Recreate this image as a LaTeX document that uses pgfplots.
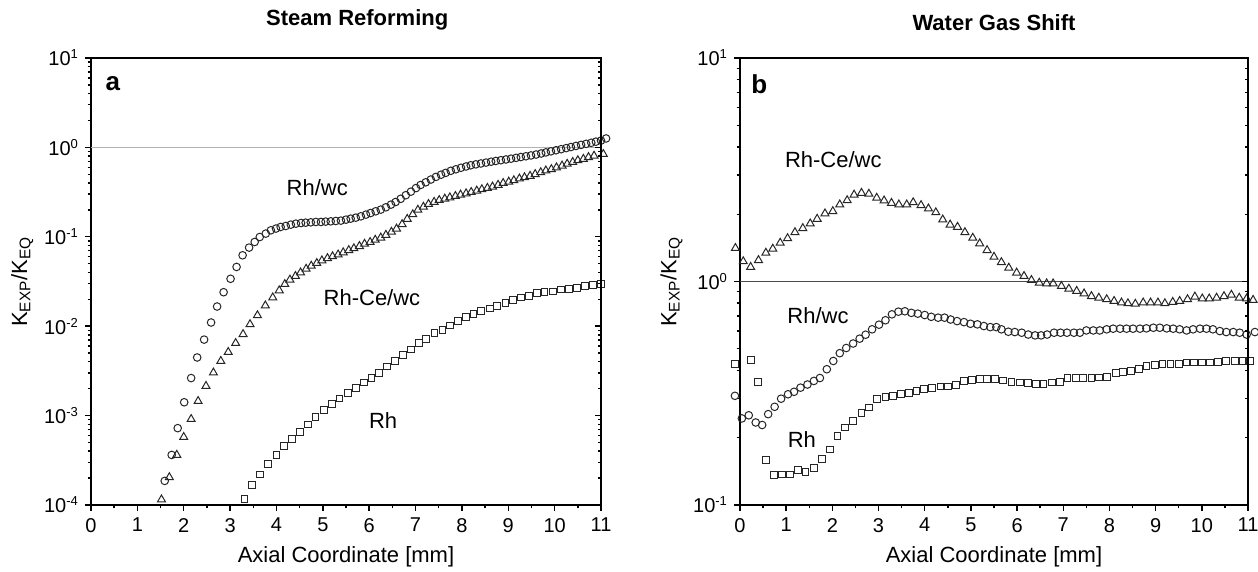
\documentclass[border=0pt]{standalone}
\usepackage{fontspec}
\setmainfont{Liberation Sans}
\usepackage{pgfplots}
\pgfplotsset{compat=1.18}

\newcommand{\ex}[1]{10\raisebox{3.6pt}{\fontsize{6.5}{7}\selectfont#1}}

% shared look of both panels
\pgfplotsset{
  kbase/.style={
    scale only axis, height=223.5pt,
    xmin=0, xmax=11, xtick={0,...,11}, minor x tick num=1,
    tick align=outside, xtick pos=bottom, ytick pos=left,
    axis line style={line width=0.9pt},
    major tick length=3pt, minor tick length=1.7pt,
    tick style={black, line width=0.7pt},
    tick label style={font=\fontsize{10}{12}\selectfont},
    label style={font=\fontsize{11}{13}\selectfont},
    /pgf/number format/assume math mode=true,
    clip=false,
    xlabel={Axial Coordinate [mm]},
    ylabel={K\textsubscript{EXP}/K\textsubscript{EQ}},
    xlabel style={at={(axis description cs:0.5,-0.117)}, anchor=center},
    ylabel style={at={(axis description cs:-0.135,0.5)}, anchor=center},
  },
  rticks/.style={
    scale only axis, height=223.5pt,
    xmin=0, xmax=11,
    axis x line=none, axis y line=right, axis line style={-, line width=0.9pt},
    tick align=inside, yticklabels={},
    major tick length=3pt, minor tick length=1.7pt,
    tick style={black, line width=0.7pt},
  },
}

\begin{document}
\begin{tikzpicture}[font=\fontsize{11}{13}\selectfont]
\path[use as bounding box] (0,0) rectangle (629pt,286pt);

% ---------- panel a ----------
\begin{axis}[kbase, width=255pt, at={(45.5pt,33.5pt)}, anchor=south west,
  ymode=log, ymin=1e-4, ymax=10,
  ytick={1e-4,1e-3,1e-2,1e-1,1,10},
  yticklabels={\ex{-4},\ex{-3},\ex{-2},\ex{-1},\ex{0},\ex{1}},
  minor ytick={2e-4,3e-4,4e-4,5e-4,6e-4,7e-4,8e-4,9e-4,2e-3,3e-3,4e-3,5e-3,6e-3,7e-3,8e-3,9e-3,0.02,0.03,0.04,0.05,0.06,0.07,0.08,0.09,0.2,0.3,0.4,0.5,0.6,0.7,0.8,0.9,2,3,4,5,6,7,8,9},
  title={Steam Reforming},
  title style={font=\bfseries\fontsize{11}{13}\selectfont, at={(axis description cs:0.522,1.058)}, anchor=center}]
\addplot[gray!60, line width=0.8pt, forget plot] coordinates {(0,1) (11,1)};
% Rh/wc
\addplot[only marks, mark=o, mark size=1.9pt, black!85, mark options={line width=0.5pt}] coordinates {
(1.59,1.86e-4) (1.74,3.63e-4) (1.87,7.24e-4) (2.01,1.41e-3) (2.16,2.63e-3) (2.29,4.47e-3)
(2.44,7.08e-3) (2.59,0.0110) (2.72,0.0166) (2.86,0.0240) (3.01,0.0339) (3.14,0.0460)
(3.27,0.0621) (3.41,0.0757) (3.53,0.0875) (3.64,0.0995) (3.77,0.1086) (3.88,0.1183)
(3.99,0.1236) (4.09,0.1288) (4.20,0.1321) (4.31,0.1368) (4.42,0.1403) (4.53,0.1426)
(4.63,0.1439) (4.74,0.1452) (4.85,0.1466) (4.96,0.1466) (5.06,0.1479) (5.17,0.1489)
(5.28,0.1503) (5.39,0.1517) (5.50,0.1556) (5.60,0.1596) (5.71,0.1637) (5.82,0.1694)
(5.93,0.1770) (6.03,0.1845) (6.14,0.1928) (6.25,0.2014) (6.36,0.2138) (6.47,0.2291)
(6.57,0.2449) (6.68,0.266) (6.79,0.292) (6.90,0.320) (7.01,0.351) (7.11,0.380)
(7.22,0.407) (7.33,0.437) (7.44,0.468) (7.55,0.495) (7.65,0.519) (7.76,0.547)
(7.87,0.569) (7.98,0.592) (8.09,0.612) (8.19,0.631) (8.30,0.646) (8.41,0.661)
(8.52,0.676) (8.63,0.692) (8.73,0.705) (8.84,0.719) (8.95,0.733) (9.06,0.748)
(9.17,0.764) (9.27,0.780) (9.38,0.796) (9.49,0.813) (9.60,0.832) (9.71,0.855)
(9.81,0.879) (9.92,0.904) (10.03,0.929) (10.14,0.955) (10.25,0.982) (10.35,1.009)
(10.46,1.038) (10.57,1.067) (10.68,1.096) (10.79,1.127) (10.89,1.159) (11.00,1.191)
(11.11,1.259)};
% Rh-Ce/wc
\addplot[only marks, mark=triangle, mark size=2.3pt, black!85, mark options={line width=0.5pt}] coordinates {
(1.52,1.15e-4) (1.69,2.04e-4) (1.85,3.63e-4) (2.00,5.75e-4) (2.16,9.12e-4) (2.31,1.45e-3)
(2.48,2.14e-3) (2.64,3.02e-3) (2.80,4.07e-3) (2.96,5.13e-3) (3.12,6.46e-3) (3.28,8.13e-3)
(3.43,0.0105) (3.59,0.0132) (3.76,0.0170) (3.92,0.0209) (4.06,0.0251) (4.18,0.0295)
(4.29,0.0331) (4.41,0.0363) (4.52,0.0398) (4.64,0.0437) (4.75,0.0473) (4.87,0.0507)
(4.98,0.0543) (5.10,0.0575) (5.21,0.0603) (5.33,0.0631) (5.44,0.0668) (5.56,0.0708)
(5.67,0.0741) (5.79,0.0785) (5.90,0.0832) (6.02,0.0871) (6.13,0.0923) (6.25,0.0977)
(6.36,0.1047) (6.48,0.1135) (6.59,0.1230) (6.71,0.138) (6.82,0.158) (6.94,0.178)
(7.05,0.200) (7.17,0.216) (7.28,0.232) (7.40,0.245) (7.51,0.257) (7.63,0.266)
(7.74,0.275) (7.86,0.285) (7.97,0.295) (8.09,0.305) (8.20,0.316) (8.32,0.327)
(8.43,0.339) (8.55,0.351) (8.66,0.363) (8.78,0.380) (8.89,0.398) (9.01,0.412)
(9.12,0.427) (9.24,0.447) (9.35,0.462) (9.47,0.479) (9.58,0.501) (9.70,0.525)
(9.81,0.550) (9.93,0.569) (10.04,0.596) (10.16,0.624) (10.27,0.653) (10.39,0.684)
(10.50,0.716) (10.62,0.741) (10.73,0.776) (10.85,0.804) (11.05,0.841)};
% Rh
\addplot[only marks, mark=square, mark size=1.7pt, black!85, mark options={line width=0.5pt}] coordinates {
(3.31,1.17e-4) (3.48,1.66e-4) (3.65,2.19e-4) (3.82,2.88e-4) (4.00,3.63e-4) (4.17,4.57e-4)
(4.33,5.50e-4) (4.50,6.61e-4) (4.68,7.94e-4) (4.84,9.55e-4) (5.02,1.15e-3) (5.19,1.35e-3)
(5.36,1.55e-3) (5.54,1.78e-3) (5.72,2.04e-3) (5.88,2.34e-3) (6.05,2.63e-3) (6.21,3.02e-3)
(6.39,3.55e-3) (6.55,4.07e-3) (6.73,4.79e-3) (6.90,5.50e-3) (7.08,6.46e-3) (7.23,7.24e-3)
(7.41,8.32e-3) (7.58,9.12e-3) (7.75,0.0102) (7.92,0.0115) (8.08,0.0126) (8.25,0.0138)
(8.42,0.0148) (8.60,0.0158) (8.76,0.0170) (8.94,0.0182) (9.10,0.0195) (9.28,0.0209)
(9.45,0.0219) (9.62,0.0234) (9.78,0.0240) (9.96,0.0245) (10.13,0.0257) (10.31,0.0263)
(10.48,0.0269) (10.65,0.0282) (10.83,0.0288) (11.00,0.0295)};
\node at (axis cs:4.88,0.357) {Rh/wc};
\node at (axis cs:6.06,0.0211) {Rh-Ce/wc};
\node at (axis cs:6.30,8.9e-4) {Rh};
\node[font=\bfseries\fontsize{13}{15}\selectfont] at (rel axis cs:0.043,0.943) {a};
\end{axis}
\begin{axis}[rticks, width=255pt, at={(45.5pt,33.5pt)}, anchor=south west,
  ymode=log, ymin=1e-4, ymax=10, ytick={1e-4,1e-3,1e-2,1e-1,1,10},
  minor ytick={2e-4,3e-4,4e-4,5e-4,6e-4,7e-4,8e-4,9e-4,2e-3,3e-3,4e-3,5e-3,6e-3,7e-3,8e-3,9e-3,0.02,0.03,0.04,0.05,0.06,0.07,0.08,0.09,0.2,0.3,0.4,0.5,0.6,0.7,0.8,0.9,2,3,4,5,6,7,8,9}]
\end{axis}

% ---------- panel b ----------
\begin{axis}[kbase, width=254pt, at={(370pt,33.5pt)}, anchor=south west,
  ymode=log, ymin=0.1, ymax=10,
  ytick={0.1,1,10},
  yticklabels={\ex{-1},\ex{0},\ex{1}},
  minor ytick={0.2,0.3,0.4,0.5,0.6,0.7,0.8,0.9,2,3,4,5,6,7,8,9},
  title={Water Gas Shift},
  title style={font=\bfseries\fontsize{11}{13}\selectfont, at={(axis description cs:0.5,1.052)}, anchor=center}]
\addplot[black!70, line width=0.6pt, forget plot] coordinates {(0,1) (11,1)};
% Rh-Ce/wc
\addplot[only marks, mark=triangle, mark size=2.3pt, black!85, mark options={line width=0.5pt}] coordinates {
(-0.1,1.41) (0.07,1.23) (0.23,1.16) (0.40,1.245) (0.56,1.343) (0.71,1.400)
(0.87,1.489) (1.03,1.560) (1.19,1.660) (1.36,1.730) (1.52,1.816) (1.67,1.905)
(1.84,2.014) (2.01,2.061) (2.16,2.208) (2.32,2.307) (2.47,2.443) (2.63,2.489)
(2.79,2.466) (2.96,2.366) (3.12,2.301) (3.28,2.244) (3.44,2.208) (3.61,2.208)
(3.75,2.259) (3.92,2.193) (4.08,2.118) (4.24,2.037) (4.39,1.892) (4.55,1.795)
(4.71,1.754) (4.87,1.660) (5.04,1.567) (5.19,1.479) (5.35,1.380) (5.50,1.288)
(5.66,1.219) (5.82,1.151) (5.99,1.094) (6.15,1.057) (6.31,1.014) (6.48,0.986)
(6.64,0.979) (6.78,0.979) (6.96,0.953) (7.12,0.927) (7.29,0.906) (7.45,0.883)
(7.61,0.859) (7.77,0.845) (7.94,0.832) (8.10,0.817) (8.26,0.804) (8.40,0.798)
(8.56,0.794) (8.73,0.804) (8.89,0.804) (9.05,0.804) (9.20,0.798) (9.37,0.809)
(9.52,0.817) (9.69,0.832) (9.85,0.855) (10.01,0.838) (10.16,0.838) (10.32,0.845)
(10.48,0.859) (10.64,0.871) (10.81,0.845) (10.97,0.838) (11.11,0.826)};
% Rh/wc
\addplot[only marks, mark=o, mark size=1.9pt, black!85, mark options={line width=0.5pt}] coordinates {
(-0.11,0.308) (0.04,0.244) (0.19,0.252) (0.34,0.234) (0.48,0.228) (0.61,0.255)
(0.75,0.275) (0.89,0.299) (1.04,0.313) (1.17,0.321) (1.31,0.335) (1.46,0.346)
(1.60,0.359) (1.73,0.370) (1.88,0.405) (2.02,0.441) (2.16,0.478) (2.30,0.504)
(2.45,0.528) (2.59,0.555) (2.72,0.578) (2.86,0.611) (3.01,0.641) (3.15,0.671)
(3.29,0.713) (3.43,0.733) (3.57,0.736) (3.71,0.724) (3.85,0.718) (4.00,0.708)
(4.14,0.695) (4.29,0.689) (4.43,0.689) (4.56,0.676) (4.70,0.665) (4.85,0.658)
(4.99,0.647) (5.14,0.643) (5.28,0.632) (5.42,0.625) (5.55,0.625) (5.66,0.611)
(5.81,0.596) (5.95,0.594) (6.10,0.590) (6.24,0.579) (6.39,0.574) (6.52,0.574)
(6.65,0.579) (6.80,0.590) (6.94,0.590) (7.08,0.590) (7.23,0.590) (7.36,0.590)
(7.50,0.604) (7.65,0.604) (7.79,0.604) (7.94,0.611) (8.08,0.615) (8.23,0.615)
(8.37,0.615) (8.51,0.615) (8.66,0.615) (8.80,0.617) (8.95,0.621) (9.09,0.621)
(9.24,0.617) (9.38,0.615) (9.52,0.611) (9.67,0.604) (9.81,0.611) (9.96,0.615)
(10.10,0.615) (10.24,0.611) (10.39,0.600) (10.53,0.594) (10.68,0.594) (10.82,0.590)
(10.97,0.579) (11.15,0.594)};
% Rh
\addplot[only marks, mark=square, mark size=1.7pt, black!85, mark options={line width=0.5pt}] coordinates {
(-0.11,0.426) (0.23,0.444) (0.39,0.356) (0.57,0.159) (0.74,0.136) (0.91,0.137)
(1.08,0.137) (1.26,0.143) (1.42,0.141) (1.60,0.146) (1.77,0.160) (1.94,0.177)
(2.11,0.203) (2.28,0.222) (2.45,0.238) (2.63,0.259) (2.79,0.273) (2.97,0.297)
(3.15,0.305) (3.31,0.308) (3.48,0.315) (3.66,0.318) (3.82,0.324) (3.99,0.330)
(4.16,0.335) (4.34,0.339) (4.50,0.339) (4.68,0.344) (4.85,0.359) (5.02,0.362)
(5.19,0.365) (5.35,0.365) (5.52,0.365) (5.70,0.361) (5.88,0.356) (6.06,0.353)
(6.24,0.351) (6.41,0.349) (6.57,0.347) (6.75,0.353) (6.93,0.356) (7.09,0.369)
(7.27,0.369) (7.43,0.369) (7.61,0.369) (7.78,0.372) (7.95,0.374) (8.14,0.391)
(8.30,0.394) (8.46,0.398) (8.64,0.405) (8.80,0.419) (8.98,0.423) (9.15,0.426)
(9.32,0.426) (9.50,0.429) (9.67,0.434) (9.83,0.434) (10.01,0.434) (10.17,0.434)
(10.35,0.437) (10.53,0.440) (10.71,0.440) (10.88,0.440) (11.04,0.440)};
\node at (axis cs:2.02,3.5) {Rh-Ce/wc};
\node at (axis cs:1.69,0.70) {Rh/wc};
\node at (axis cs:1.34,0.196) {Rh};
\node[font=\bfseries\fontsize{13}{15}\selectfont] at (rel axis cs:0.038,0.941) {b};
\end{axis}
\begin{axis}[rticks, width=254pt, at={(370pt,33.5pt)}, anchor=south west,
  ymode=log, ymin=0.1, ymax=10, ytick={0.1,1,10},
  minor ytick={0.2,0.3,0.4,0.5,0.6,0.7,0.8,0.9,2,3,4,5,6,7,8,9}]
\end{axis}
\end{tikzpicture}
\end{document}
